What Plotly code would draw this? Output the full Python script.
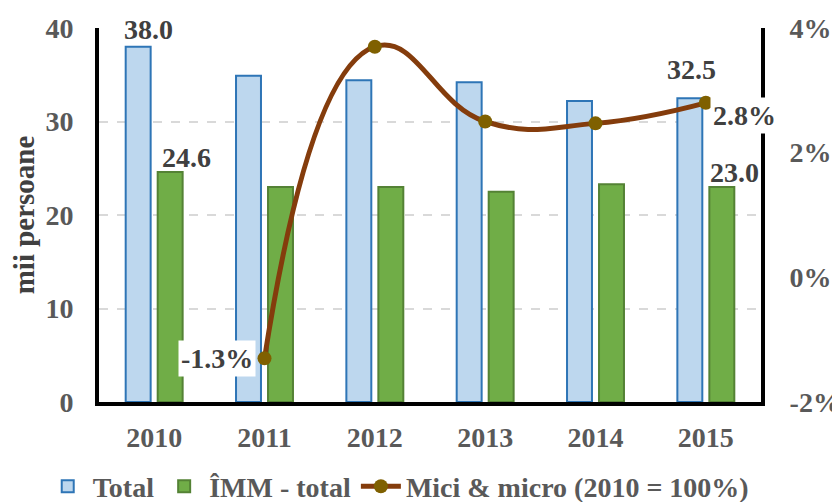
import plotly.graph_objects as go

years = [2010, 2011, 2012, 2013, 2014, 2015]
total = [38.0, 34.9, 34.4, 34.2, 32.2, 32.5]
imm = [24.6, 23.0, 23.0, 22.5, 23.3, 23.0]
line_years = [2011, 2012, 2013, 2014, 2015]
mici_micro = [-1.3, 3.7, 2.5, 2.47, 2.8]
left_ticks = [0, 10, 20, 30, 40]
right_ticks = [-2, 0, 2, 4]
right_tick_text = ["-2%", "0%", "2%", "4%"]

FONT = "Liberation Serif"
LBL = "#404040"
TICK = "#595959"

fig = go.Figure()
fig.add_trace(go.Bar(x=years, y=total, name="Total",
                     marker=dict(color="#bdd7ee", line=dict(color="#2e75b6", width=2))))
fig.add_trace(go.Bar(x=years, y=imm, name="ÎMM - total",
                     marker=dict(color="#70ad47", line=dict(color="#548235", width=2))))
fig.add_trace(go.Scatter(x=line_years, y=mici_micro, name="Mici & micro (2010 = 100%)",
                         yaxis="y2", mode="lines+markers",
                         line=dict(color="#843c0c", width=5, shape="spline", smoothing=1.3),
                         marker=dict(color="#7f6000", size=14)))

def lab(x, y, text, xshift=0, yshift=0, yref="y", xanchor="center", yanchor="bottom", bg=None):
    fig.add_annotation(x=x, y=y, xref="x", yref=yref, text=f"<b>{text}</b>", showarrow=False,
                       xshift=xshift, yshift=yshift, xanchor=xanchor, yanchor=yanchor,
                       font=dict(family=FONT, size=28, color=LBL),
                       bgcolor=bg, borderpad=2)

lab(years[0], total[0], f"{total[0]:.1f}", xshift=-6, yshift=-1)
lab(years[0], imm[0], f"{imm[0]:.1f}", xshift=32, yshift=-4)
lab(years[5], total[5], f"{total[5]:.1f}", xshift=-14, yshift=10)
lab(years[5], imm[5], f"{imm[5]:.1f}", xshift=29, yshift=-4)
lab(line_years[0], mici_micro[0], f"{mici_micro[0]:.1f}%", xshift=-9, yref="y2",
    xanchor="right", yanchor="middle", bg="white")
lab(line_years[4], mici_micro[4], f"{mici_micro[4]:.1f}%", xshift=4, yshift=-13, yref="y2",
    xanchor="left", yanchor="middle", bg="white")

# page body has an 8px margin: figure is sized/margined so the plot area lands as in the reference
fig.update_layout(
    width=832, height=494,
    margin=dict(l=91, r=79, t=20, b=100, autoexpand=False),
    paper_bgcolor="white", plot_bgcolor="white",
    barmode="group", bargap=0.42, bargroupgap=0.22,
    font=dict(family=FONT, color=TICK),
    showlegend=True,
    legend=dict(orientation="h", x=-0.085, xanchor="left", y=-0.226, yanchor="middle",
                font=dict(family=FONT, size=28, color=TICK, weight="bold"),
                traceorder="normal", itemwidth=40, tracegroupgap=0,
                bgcolor="rgba(0,0,0,0)"),
    xaxis=dict(range=[2009.5, 2015.5], tickvals=years, showline=True, linecolor="black",
               linewidth=4, ticks="outside", showgrid=False, zeroline=False,
               ticklen=7, tickcolor="rgba(0,0,0,0)",
               tickfont=dict(family=FONT, size=28, color=TICK, weight="bold")),
    yaxis=dict(range=[0, 40], tickvals=left_ticks, showline=True, linecolor="black", linewidth=4,
               showgrid=True, gridcolor="#d9d9d9", griddash="dash", gridwidth=1.5,
               zeroline=False, ticks="outside", ticklen=16, tickcolor="rgba(0,0,0,0)",
               tickfont=dict(family=FONT, size=28, color=TICK, weight="bold"),
               title=dict(text="<b>mii persoane</b>", font=dict(family=FONT, size=29, color=LBL),
                          standoff=10)),
    yaxis2=dict(range=[-2, 4], tickvals=right_ticks, ticktext=right_tick_text,
                overlaying="y", side="right", showline=True, linecolor="black", linewidth=4,
                showgrid=False, zeroline=False, ticks="outside", ticklen=19,
                tickcolor="rgba(0,0,0,0)",
                tickfont=dict(family=FONT, size=28, color=TICK, weight="bold")),
)

fig.write_html("out.html")
